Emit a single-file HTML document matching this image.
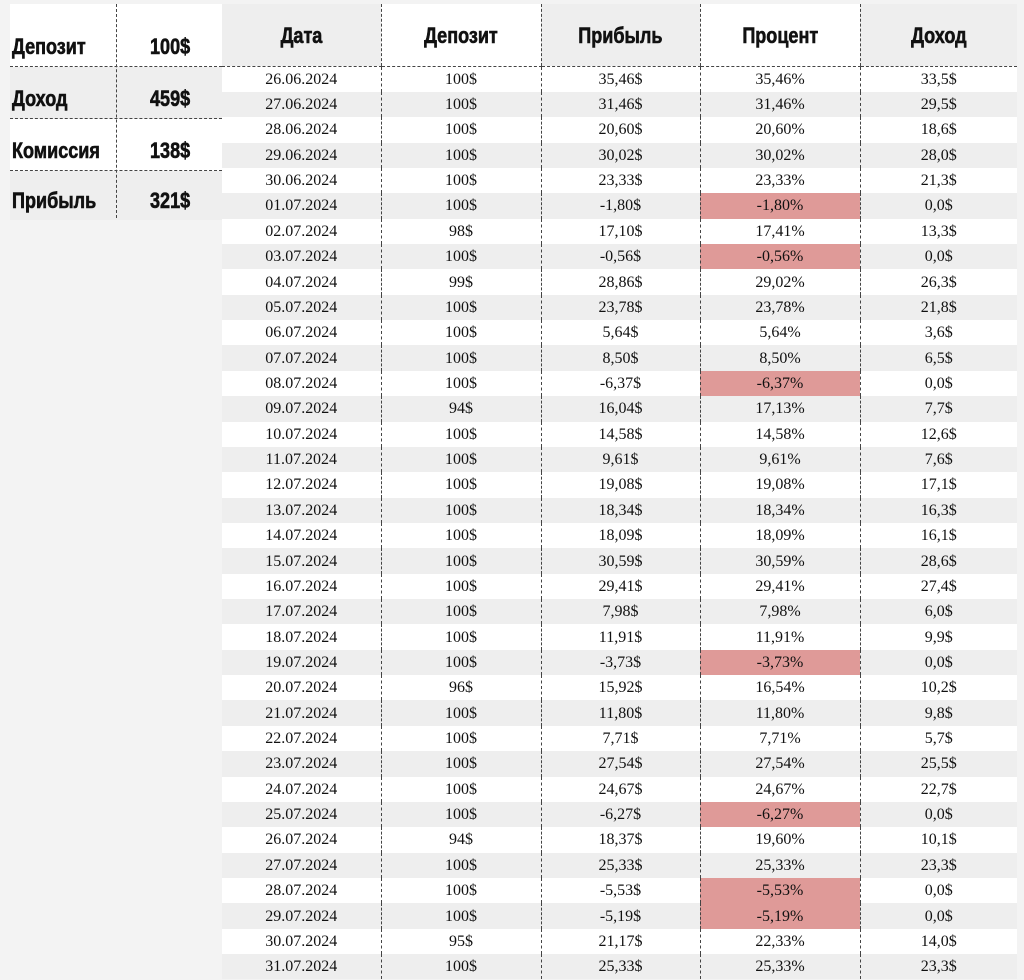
<!DOCTYPE html>
<html><head><meta charset="utf-8"><style>
body{margin:0;width:1024px;height:980px;background:#f3f3f3;overflow:hidden;position:relative;font-family:"Liberation Serif",serif;}
.hd{font-family:"Liberation Sans",sans-serif;font-weight:bold;font-size:22px;color:#111;-webkit-text-stroke:0.6px #111;}
.hd span,.c{display:inline-block;transform:scaleX(0.82);transform-origin:left center;}
th .c{transform-origin:center center;}
#left{position:absolute;left:10px;top:4px;width:212px;}
.lb{position:relative;height:51px;border-bottom:1px dashed #444;}
.lb span{position:absolute;bottom:6px;}
.lb .k{left:2px}.lb .v{left:140px}
#vl{position:absolute;left:116px;top:4px;height:214px;border-left:1px dashed #444;}
table{position:absolute;left:222px;top:4px;border-collapse:collapse;width:795px;table-layout:fixed;}
td{padding:0;text-align:center;font-size:16px;height:25.36px;line-height:25px;color:#111;}
tr.g td{background:#eeeeee}
tr.w td{background:#fff}
th{height:62px;padding:0;vertical-align:top;padding-top:19px;box-sizing:border-box;border-bottom:1px dashed #444;}
th.g{background:#eeeeee}th.w{background:#fff}
td:nth-child(2),td:nth-child(3),td:nth-child(4),td:nth-child(5),th:nth-child(2),th:nth-child(3),th:nth-child(4),th:nth-child(5){border-left:1px dashed #444}
td.p{background:#df9a98 !important}
</style></head><body>
<div id="left">
<div class="lb hd" style="height:62px;background:#fff"><span class="k">Депозит</span><span class="v">100$</span></div>
<div class="lb hd" style="background:#eeeeee"><span class="k">Доход</span><span class="v">459$</span></div>
<div class="lb hd" style="background:#fff"><span class="k">Комиссия</span><span class="v">138$</span></div>
<div class="lb hd" style="background:#eeeeee;border-bottom:none;height:49px"><span class="k">Прибыль</span><span class="v">321$</span></div>
</div>
<div id="vl"></div>
<table>
<colgroup><col style="width:159px"><col style="width:160px"><col style="width:159px"><col style="width:160px"><col style="width:157px"></colgroup>
<tr><th class="g hd"><span class="c">Дата</span></th><th class="w hd"><span class="c">Депозит</span></th><th class="g hd"><span class="c">Прибыль</span></th><th class="w hd"><span class="c">Процент</span></th><th class="g hd"><span class="c">Доход</span></th></tr>
<tr class="w"><td>26.06.2024</td><td>100$</td><td>35,46$</td><td>35,46%</td><td>33,5$</td></tr>
<tr class="g"><td>27.06.2024</td><td>100$</td><td>31,46$</td><td>31,46%</td><td>29,5$</td></tr>
<tr class="w"><td>28.06.2024</td><td>100$</td><td>20,60$</td><td>20,60%</td><td>18,6$</td></tr>
<tr class="g"><td>29.06.2024</td><td>100$</td><td>30,02$</td><td>30,02%</td><td>28,0$</td></tr>
<tr class="w"><td>30.06.2024</td><td>100$</td><td>23,33$</td><td>23,33%</td><td>21,3$</td></tr>
<tr class="g"><td>01.07.2024</td><td>100$</td><td>-1,80$</td><td class="p">-1,80%</td><td>0,0$</td></tr>
<tr class="w"><td>02.07.2024</td><td>98$</td><td>17,10$</td><td>17,41%</td><td>13,3$</td></tr>
<tr class="g"><td>03.07.2024</td><td>100$</td><td>-0,56$</td><td class="p">-0,56%</td><td>0,0$</td></tr>
<tr class="w"><td>04.07.2024</td><td>99$</td><td>28,86$</td><td>29,02%</td><td>26,3$</td></tr>
<tr class="g"><td>05.07.2024</td><td>100$</td><td>23,78$</td><td>23,78%</td><td>21,8$</td></tr>
<tr class="w"><td>06.07.2024</td><td>100$</td><td>5,64$</td><td>5,64%</td><td>3,6$</td></tr>
<tr class="g"><td>07.07.2024</td><td>100$</td><td>8,50$</td><td>8,50%</td><td>6,5$</td></tr>
<tr class="w"><td>08.07.2024</td><td>100$</td><td>-6,37$</td><td class="p">-6,37%</td><td>0,0$</td></tr>
<tr class="g"><td>09.07.2024</td><td>94$</td><td>16,04$</td><td>17,13%</td><td>7,7$</td></tr>
<tr class="w"><td>10.07.2024</td><td>100$</td><td>14,58$</td><td>14,58%</td><td>12,6$</td></tr>
<tr class="g"><td>11.07.2024</td><td>100$</td><td>9,61$</td><td>9,61%</td><td>7,6$</td></tr>
<tr class="w"><td>12.07.2024</td><td>100$</td><td>19,08$</td><td>19,08%</td><td>17,1$</td></tr>
<tr class="g"><td>13.07.2024</td><td>100$</td><td>18,34$</td><td>18,34%</td><td>16,3$</td></tr>
<tr class="w"><td>14.07.2024</td><td>100$</td><td>18,09$</td><td>18,09%</td><td>16,1$</td></tr>
<tr class="g"><td>15.07.2024</td><td>100$</td><td>30,59$</td><td>30,59%</td><td>28,6$</td></tr>
<tr class="w"><td>16.07.2024</td><td>100$</td><td>29,41$</td><td>29,41%</td><td>27,4$</td></tr>
<tr class="g"><td>17.07.2024</td><td>100$</td><td>7,98$</td><td>7,98%</td><td>6,0$</td></tr>
<tr class="w"><td>18.07.2024</td><td>100$</td><td>11,91$</td><td>11,91%</td><td>9,9$</td></tr>
<tr class="g"><td>19.07.2024</td><td>100$</td><td>-3,73$</td><td class="p">-3,73%</td><td>0,0$</td></tr>
<tr class="w"><td>20.07.2024</td><td>96$</td><td>15,92$</td><td>16,54%</td><td>10,2$</td></tr>
<tr class="g"><td>21.07.2024</td><td>100$</td><td>11,80$</td><td>11,80%</td><td>9,8$</td></tr>
<tr class="w"><td>22.07.2024</td><td>100$</td><td>7,71$</td><td>7,71%</td><td>5,7$</td></tr>
<tr class="g"><td>23.07.2024</td><td>100$</td><td>27,54$</td><td>27,54%</td><td>25,5$</td></tr>
<tr class="w"><td>24.07.2024</td><td>100$</td><td>24,67$</td><td>24,67%</td><td>22,7$</td></tr>
<tr class="g"><td>25.07.2024</td><td>100$</td><td>-6,27$</td><td class="p">-6,27%</td><td>0,0$</td></tr>
<tr class="w"><td>26.07.2024</td><td>94$</td><td>18,37$</td><td>19,60%</td><td>10,1$</td></tr>
<tr class="g"><td>27.07.2024</td><td>100$</td><td>25,33$</td><td>25,33%</td><td>23,3$</td></tr>
<tr class="w"><td>28.07.2024</td><td>100$</td><td>-5,53$</td><td class="p">-5,53%</td><td>0,0$</td></tr>
<tr class="g"><td>29.07.2024</td><td>100$</td><td>-5,19$</td><td class="p">-5,19%</td><td>0,0$</td></tr>
<tr class="w"><td>30.07.2024</td><td>95$</td><td>21,17$</td><td>22,33%</td><td>14,0$</td></tr>
<tr class="g"><td>31.07.2024</td><td>100$</td><td>25,33$</td><td>25,33%</td><td>23,3$</td></tr>
</table>
</body></html>
